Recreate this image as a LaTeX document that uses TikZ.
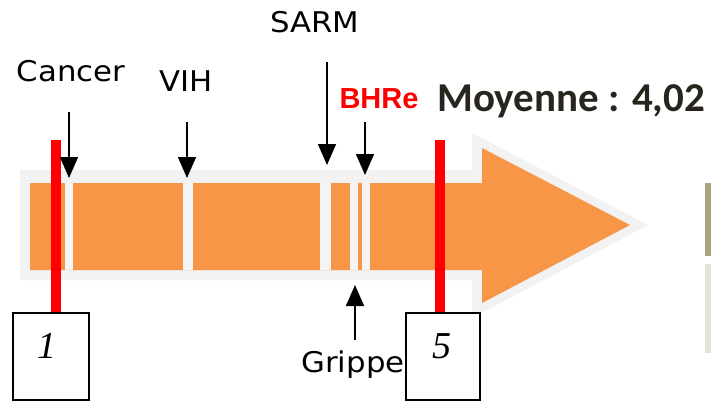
\documentclass[tikz,border=0pt]{standalone}
\usepackage{fontspec}
\usetikzlibrary{arrows.meta}
\newfontfamily\lblfont{DejaVu Sans}
\newfontfamily\bhrefont{Liberation Sans}
\newfontfamily\moyfont{Carlito}
\newfontfamily\digitfont{Liberation Serif}
\definecolor{arroworange}{HTML}{F79646}
\definecolor{halogray}{HTML}{F2F2F2}
\definecolor{gapgray}{HTML}{F4F4F4}
\definecolor{moytext}{RGB}{40,37,30}
\definecolor{olivebar}{HTML}{A9A57C}
\definecolor{palebar}{HTML}{E3E3DA}
\tikzset{
  lbl/.style={font=\lblfont\fontsize{28.5}{30}\selectfont, inner sep=0pt, anchor=base},
  pointer/.style={line width=1.5pt, arrows={-Triangle[length=21pt, width=18pt]}},
  redbar/.style={red, line width=10pt},
  scorebox/.style={draw, line width=1.5pt, minimum width=76pt, minimum height=87pt, inner sep=0pt, fill=white},
  gapbar/.style={fill=gapgray, draw=none},
  digit/.style={font=\digitfont\itshape\fontsize{38}{40}\selectfont, inner sep=0pt}
}
\begin{document}
\begin{tikzpicture}[x=1pt,y=-1pt]
\useasboundingbox (0,0) rectangle (711,401);
% halo and arrow
\fill[halogray] (20,170) -- (472,170) -- (472,133) -- (648,225) -- (472,318) -- (472,280) -- (20,280) -- cycle;
\fill[arroworange] (30,183) -- (482,183) -- (482,148) -- (630,225) -- (482,303) -- (482,270) -- (30,270) -- cycle;
% gaps
\fill[gapbar] (65,183) rectangle (73,270);
\fill[gapbar] (183,183) rectangle (193,270);
\fill[gapbar] (320,183) rectangle (331,270);
\fill[gapbar] (350,183) rectangle (358,270);
\fill[gapbar] (362,183) rectangle (370,270);
% right side bars
\fill[olivebar] (705,183) rectangle (711,256);
\fill[palebar] (705,264) rectangle (711,353);
% labels
\node[lbl] (cancer) at (71,82) {\scalebox{1.08}[1]{Cancer}};
\node[lbl] (vih) at (186,92) {\scalebox{1.08}[1]{VIH}};
\node[lbl] (sarm) at (315,33) {\scalebox{1.08}[1]{SARM}};
\node[lbl] (grippe) at (353,372) {\scalebox{1.08}[1]{Grippe}};
\node[inner sep=0pt, anchor=base, text=red, font=\bhrefont\bfseries\fontsize{29}{31}\selectfont] (bhre) at (379,108) {BHRe};
\node[inner sep=0pt, anchor=base west, text=moytext, font=\moyfont\bfseries\fontsize{41}{43}\selectfont] (moy) at (437,111) {Moyenne : 4,02};
% boxes
\node[scorebox, anchor=north west] (box1) at (12,312) {};
\node[scorebox, anchor=north west, minimum width=74pt] (box5) at (405,312) {};
\node[digit] (d1) at (47,346) {1};
\node[digit] (d5) at (442,346) {5};
% red bars
\coordinate (r1) at (56,140);
\coordinate (r5) at (440,140);
\draw[redbar] (r1) -- (r1 |- box1.north);
\draw[redbar] (r5) -- (r5 |- box5.north);
% pointers
\coordinate (cs) at (69,112); \coordinate (ct) at (69,178);
\coordinate (vs) at (187,122); \coordinate (vt) at (187,178);
\coordinate (ss) at (327,62); \coordinate (st) at (327,165);
\coordinate (bs) at (365,122); \coordinate (bt) at (365,175);
\coordinate (gs) at (355,340); \coordinate (gt) at (355,285);
\draw[pointer] (cs) -- (ct);
\draw[pointer] (vs) -- (vt);
\draw[pointer] (ss) -- (st);
\draw[pointer] (bs) -- (bt);
\draw[pointer] (gs) -- (gt);
\end{tikzpicture}
\end{document}
